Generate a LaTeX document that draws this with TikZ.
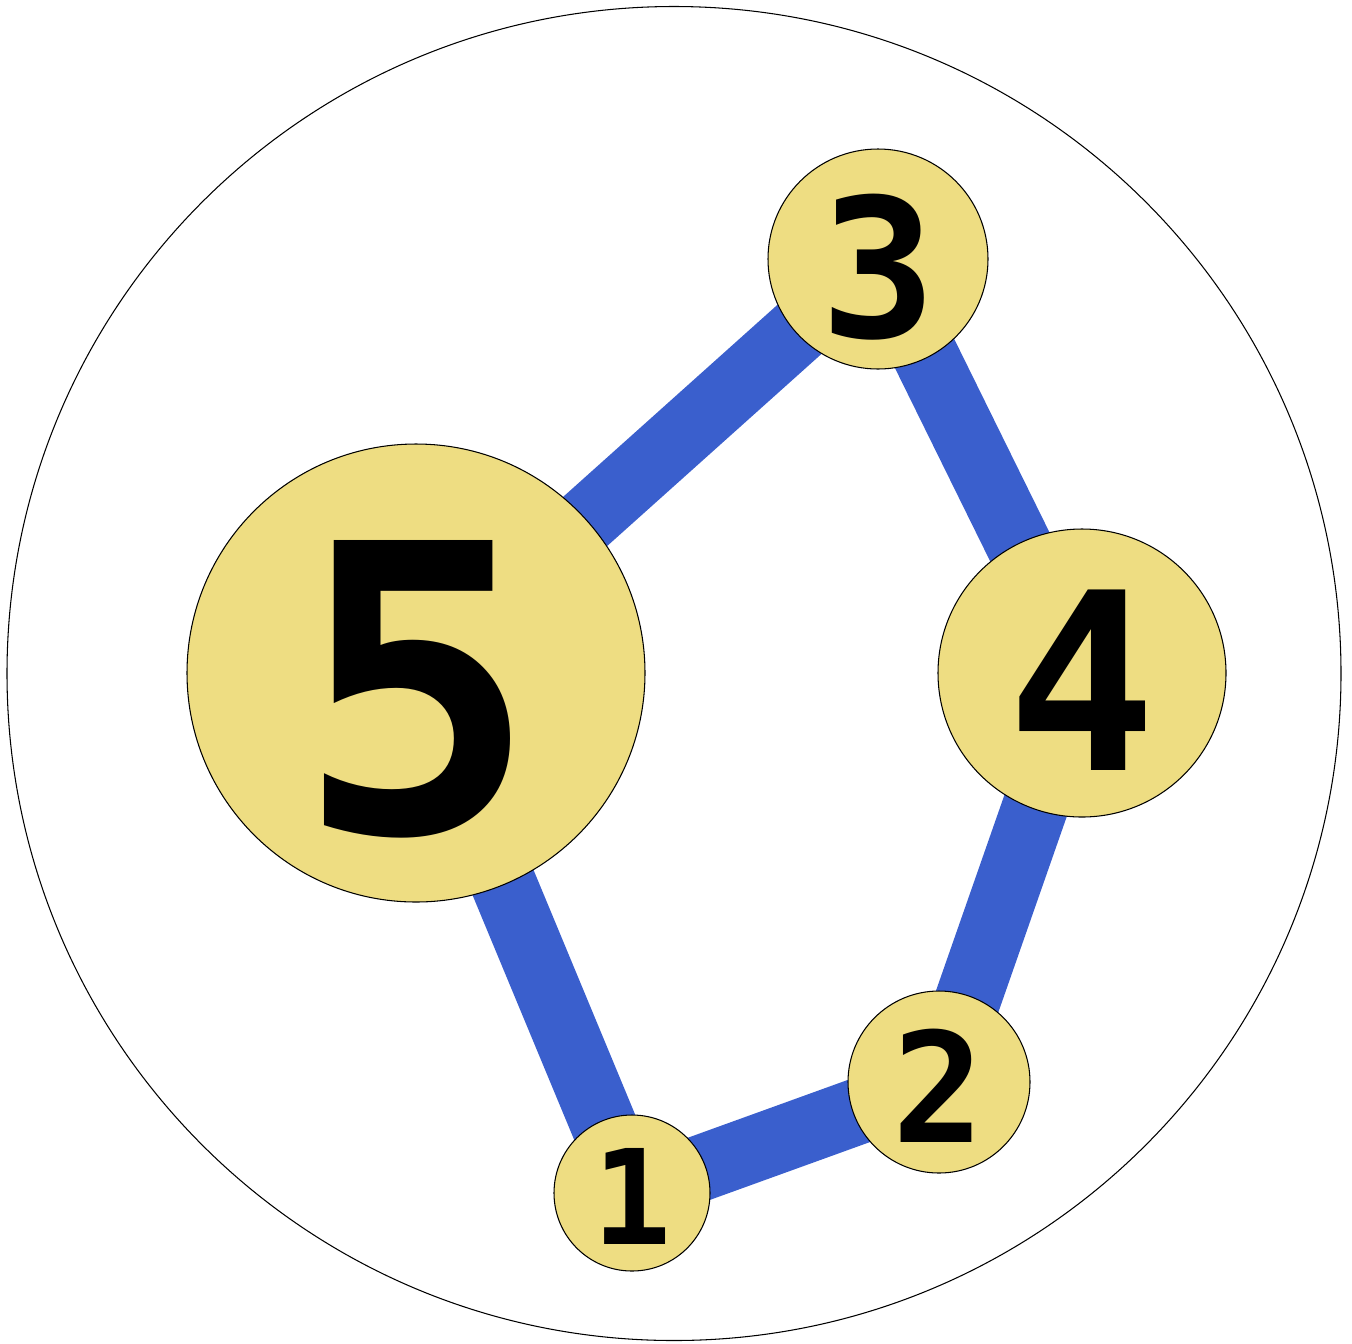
\documentclass[tikz,border=0pt]{standalone}
\usepackage{fontspec}
\newfontfamily\digitfont{DejaVu Sans Mono}
\usetikzlibrary{backgrounds}
\definecolor{nodefill}{HTML}{EEDD82}
\definecolor{edgeblue}{HTML}{3A5FCD}
\tikzset{
  vert/.style={circle, draw=black, line width=0.6pt, fill=nodefill, inner sep=0pt},
  lbl/.style={font=\digitfont\bfseries\fontsize{#1}{#1}\selectfont, inner sep=0pt},
  link/.style={draw=edgeblue, line width=1.32cm},
  rim/.style={draw=black, line width=0.6pt}
}
\begin{document}
\begin{tikzpicture}[x=0.02cm, y=-0.02cm]
\useasboundingbox (0,0) rectangle (1352,1343);
\draw[rim] (674,673.5) circle [radius=667];
\node[vert, minimum size=458*0.02cm] (n5) at (416,673) {};
\node[vert, minimum size=220*0.02cm] (n3) at (878,259) {};
\node[vert, minimum size=288*0.02cm] (n4) at (1082,673) {};
\node[vert, minimum size=182*0.02cm] (n2) at (939,1082) {};
\node[vert, minimum size=156*0.02cm] (n1) at (632,1193) {};
\node[lbl=228] (t5) at (417,689) {5};
\node[lbl=110] (t3) at (879,267) {3};
\node[lbl=141] (t4) at (1082,680) {4};
\node[lbl=87] (t2) at (939,1086) {2};
\node[lbl=75] (t1) at (632,1196) {1};
\begin{scope}[on background layer]
\draw[link] (n5.center) -- (n3.center);
\draw[link] (n3.center) -- (n4.center);
\draw[link] (n4.center) -- (n2.center);
\draw[link] (n2.center) -- (n1.center);
\draw[link] (n1.center) -- (n5.center);
\end{scope}
\end{tikzpicture}
\end{document}
